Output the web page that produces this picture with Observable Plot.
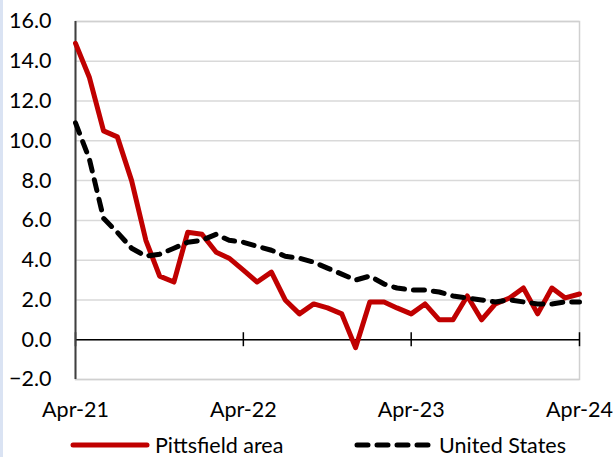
<!DOCTYPE html>
<html>
<head>
<meta charset="utf-8">
<script src="https://cdn.jsdelivr.net/npm/d3@7"></script>
<script src="https://cdn.jsdelivr.net/npm/@observablehq/plot@0.6"></script>
<style>
  html, body { margin: 0; padding: 0; background: #fff; }
  body { width: 616px; height: 457px; position: relative; overflow: hidden; font-family: Lato, "Noto Sans", sans-serif; }
  #edge { position: absolute; left: 0; top: 0; width: 3px; height: 457px; background: #dae3f3; }
  #legend { position: absolute; left: 0; top: 432px; width: 616px; height: 25px; font-size: 21.5px; color: #000; }
  .item { position: absolute; top: 0; display: flex; align-items: center; height: 25px; }
  .item svg { margin-right: 5px; }
</style>
</head>
<body>
<div id="edge"></div>
<div id="chart"></div>
<div id="legend"></div>
<script>
const months = [
  "2021-04","2021-05","2021-06","2021-07","2021-08","2021-09","2021-10","2021-11","2021-12",
  "2022-01","2022-02","2022-03","2022-04","2022-05","2022-06","2022-07","2022-08","2022-09","2022-10","2022-11","2022-12",
  "2023-01","2023-02","2023-03","2023-04","2023-05","2023-06","2023-07","2023-08","2023-09","2023-10","2023-11","2023-12",
  "2024-01","2024-02","2024-03","2024-04"
];
const pittsfield = [14.9, 13.2, 10.5, 10.2, 8.0, 5.0, 3.2, 2.9, 5.4, 5.3, 4.4, 4.1,
  3.5, 2.9, 3.4, 2.0, 1.3, 1.8, 1.6, 1.3, -0.4, 1.9, 1.9, 1.6,
  1.3, 1.8, 1.0, 1.0, 2.2, 1.0, 1.8, 2.1, 2.6, 1.3, 2.6, 2.1, 2.3];
const unitedStates = [10.9, 9.1, 6.1, 5.4, 4.6, 4.2, 4.3, 4.6, 4.9, 5.0, 5.3, 5.0,
  4.9, 4.7, 4.5, 4.2, 4.1, 3.9, 3.6, 3.3, 3.0, 3.2, 2.8, 2.6,
  2.5, 2.5, 2.4, 2.2, 2.1, 2.0, 1.9, 2.0, 1.9, 1.8, 1.8, 1.9, 1.9];
const seriesNames = ["Pittsfield area", "United States"];
const xTickMonths = ["2021-04", "2022-04", "2023-04", "2024-04"];
const xTickLabels = ["Apr-21", "Apr-22", "Apr-23", "Apr-24"];
const yTicks = [-2, 0, 2, 4, 6, 8, 10, 12, 14, 16];

const parse = d3.utcParse("%Y-%m");
const dates = months.map(parse);
const xTicks = xTickMonths.map(parse);
const pData = dates.map((d, i) => ({date: d, value: pittsfield[i]}));
const uData = dates.map((d, i) => ({date: d, value: unitedStates[i]}));
const labelFor = new Map(xTicks.map((d, i) => [+d, xTickLabels[i]]));

const font = "Lato, 'Noto Sans', sans-serif";

const plot = Plot.plot({
  width: 616,
  height: 425,
  marginTop: 21,
  marginRight: 37,
  marginBottom: 46,
  marginLeft: 75,
  style: {fontFamily: font, fontSize: "21.5px", color: "#000", background: "#fff", overflow: "visible"},
  x: {type: "utc", domain: [xTicks[0], xTicks[xTicks.length - 1]], label: null},
  y: {domain: [-2, 16], label: null},
  marks: [
    Plot.gridY(yTicks, {stroke: "#d9d9d9", strokeOpacity: 1, strokeWidth: 1.5}),
    Plot.frame({stroke: "#d0d0d0", strokeWidth: 1.5}),
    Plot.ruleY([0], {stroke: "#000", strokeWidth: 1.5}),
    Plot.ruleX(xTicks, {y1: 0, y2: 0, insetTop: -7, insetBottom: -7, stroke: "#000", strokeWidth: 1.5}),
    Plot.ruleX([xTicks[0]], {stroke: "#404040", strokeWidth: 2}),
    Plot.axisY(yTicks, {tickSize: 0, tickPadding: 24, label: null, tickFormat: d3.format(".1f"), fontSize: 21.5, fill: "#000"}),
    Plot.axisX(xTicks, {tickSize: 0, tickPadding: 22, label: null, tickFormat: d => labelFor.get(+d), fontSize: 21.5, fill: "#000"}),
    Plot.line(pData, {x: "date", y: "value", stroke: "#c00000", strokeWidth: 5, strokeLinejoin: "round", strokeLinecap: "round"}),
    Plot.line(uData, {x: "date", y: "value", stroke: "#000", strokeWidth: 5, strokeDasharray: "11,9", strokeLinejoin: "round", strokeLinecap: "round"})
  ]
});
document.getElementById("chart").appendChild(plot);

// legend
const legend = document.getElementById("legend");
const items = [
  {name: seriesNames[0], left: 70, color: "#c00000", dash: null},
  {name: seriesNames[1], left: 354, color: "#000", dash: "11,9"}
];
for (const it of items) {
  const div = document.createElement("div");
  div.className = "item";
  div.style.left = it.left + "px";
  const sw = d3.create("svg").attr("width", 80).attr("height", 12);
  sw.append("line").attr("x1", 3).attr("x2", 77).attr("y1", 6).attr("y2", 6)
    .attr("stroke", it.color).attr("stroke-width", 5).attr("stroke-linecap", "round")
    .attr("stroke-dasharray", it.dash);
  div.appendChild(sw.node());
  const span = document.createElement("span");
  span.textContent = it.name;
  div.appendChild(span);
  legend.appendChild(div);
}
</script>
</body>
</html>
